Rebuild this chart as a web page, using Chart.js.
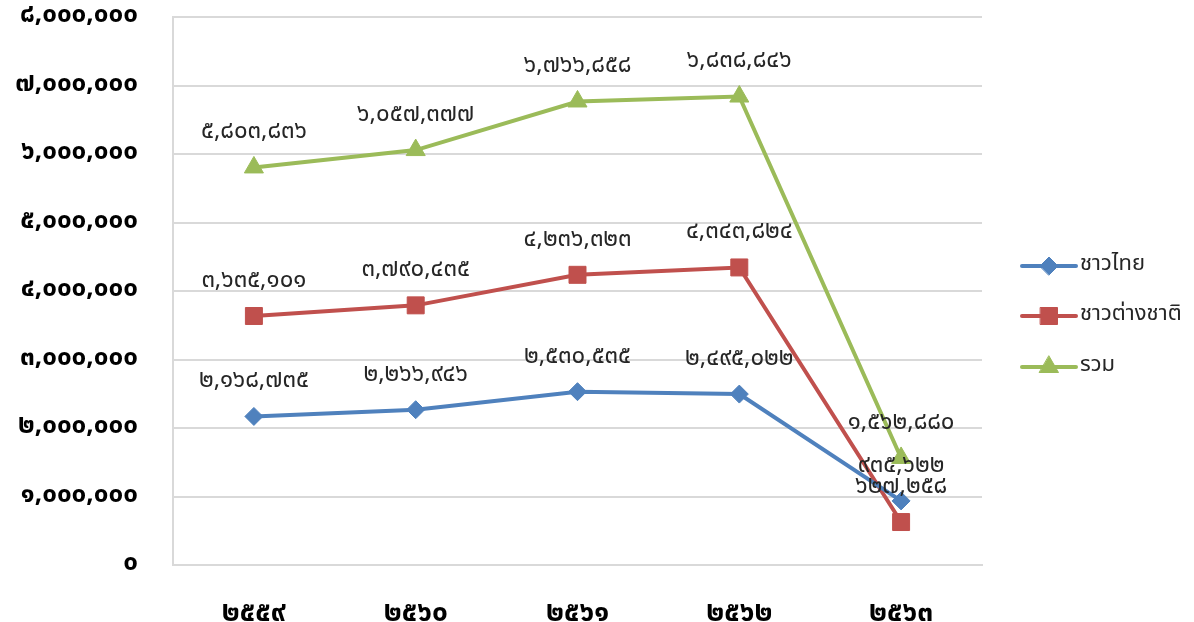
<!DOCTYPE html>
<html>
<head>
<meta charset="utf-8">
<script src="https://cdn.jsdelivr.net/npm/chart.js@4"></script>
<style>
  html, body { margin: 0; padding: 0; background: #fff; }
  #wrap { width: 1194px; height: 622px; }
</style>
</head>
<body>
<div id="wrap"><canvas id="myChart" width="1194" height="622"></canvas></div>
<script>
const years = ['๒๕๕๙', '๒๕๖๐', '๒๕๖๑', '๒๕๖๒', '๒๕๖๓'];
const seriesNames = ['ชาวไทย', 'ชาวต่างชาติ', 'รวม'];
const thai = [2168735, 2266946, 2530535, 2495022, 935622];
const foreign = [3635101, 3790435, 4236323, 4343824, 627258];
const total = [5803836, 6057377, 6766858, 6838846, 1562880];

const colors = ['#4F81BD', '#C0504D', '#9BBB59'];
const markers = ['rectRot', 'rect', 'triangle'];
const markerSize = [9, 12, 11];
const thaiFont = "'Noto Sans Thai', 'Leelawadee UI', Tahoma, sans-serif";

function toThaiDigits(s) {
	return String(s).replace(/\d/g, d => '๐๑๒๓๔๕๖๗๘๙'[d]);
}
function fmt(v) {
	return toThaiDigits(v.toLocaleString('en-US'));
}

// value labels above each point
const valueLabels = {
	id: 'valueLabels',
	afterDatasetsDraw(chart) {
		const ctx = chart.ctx;
		ctx.save();
		ctx.font = '24px ' + thaiFont;
		ctx.fillStyle = '#262626';
		ctx.textAlign = 'center';
		ctx.textBaseline = 'middle';
		chart.data.datasets.forEach((ds, i) => {
			const meta = chart.getDatasetMeta(i);
			meta.data.forEach((pt, j) => {
				ctx.fillText(fmt(ds.data[j]), pt.x, pt.y - 34);
			});
		});
		ctx.restore();
	}
};

// legend on the right, line with marker
const sideLegend = {
	id: 'sideLegend',
	afterDraw(chart) {
		const ctx = chart.ctx;
		const x0 = 1022, x1 = 1076;
		const ys = [266, 316, 367];
		ctx.save();
		chart.data.datasets.forEach((ds, i) => {
			const y = ys[i];
			ctx.strokeStyle = ds.borderColor;
			ctx.fillStyle = ds.backgroundColor;
			ctx.lineWidth = 4;
			ctx.lineCap = 'round';
			ctx.beginPath();
			ctx.moveTo(x0, y);
			ctx.lineTo(x1, y);
			ctx.stroke();
			ctx.lineWidth = 1;
			Chart.helpers.drawPoint(ctx, {
				pointStyle: ds.pointStyle,
				radius: ds.pointRadius,
				borderWidth: 1
			}, (x0 + x1) / 2, y);
			ctx.fillStyle = '#262626';
			ctx.font = '22px ' + thaiFont;
			ctx.textAlign = 'left';
			ctx.textBaseline = 'middle';
			ctx.fillText(ds.label, 1080, y);
		});
		ctx.restore();
	}
};

window.onload = () => {
	const ctx = document.getElementById('myChart').getContext('2d');
	const datasets = [thai, foreign, total].map((vals, i) => ({
		label: seriesNames[i],
		data: vals,
		borderColor: colors[i],
		backgroundColor: colors[i],
		borderWidth: 4,
		pointStyle: markers[i],
		pointRadius: markerSize[i],
		pointHoverRadius: markerSize[i],
		pointBorderWidth: 1,
		tension: 0,
		fill: false
	}));

	new Chart(ctx, {
		type: 'line',
		data: { labels: years, datasets: datasets },
		options: {
			responsive: false,
			animation: false,
			layout: { padding: { top: 17, right: 212, left: 0, bottom: 0 } },
			plugins: {
				legend: { display: false },
				tooltip: { enabled: false }
			},
			scales: {
				x: {
					offset: true,
					grid: { display: false },
					border: { display: true, color: '#d9d9d9', width: 2 },
					ticks: {
						padding: 26,
						color: '#000',
						font: { family: thaiFont, size: 28, weight: 'bold' }
					},
					afterFit(scale) {
						scale.height = 57;
						scale.paddingLeft = 0;
						scale.paddingRight = 0;
					}
				},
				y: {
					min: 0,
					max: 8000000,
					grid: { color: '#d9d9d9', lineWidth: 2, drawTicks: false },
					border: { display: true, color: '#d9d9d9', width: 2 },
					ticks: {
						stepSize: 1000000,
						padding: 35,
						color: '#000',
						font: { family: thaiFont, size: 26, weight: 'bold' },
						callback: v => fmt(v)
					},
					afterFit(scale) {
						scale.width = 173;
						scale.paddingTop = 0;
						scale.paddingBottom = 0;
					}
				}
			}
		},
		plugins: [valueLabels, sideLegend]
	});
};
</script>
</body>
</html>
